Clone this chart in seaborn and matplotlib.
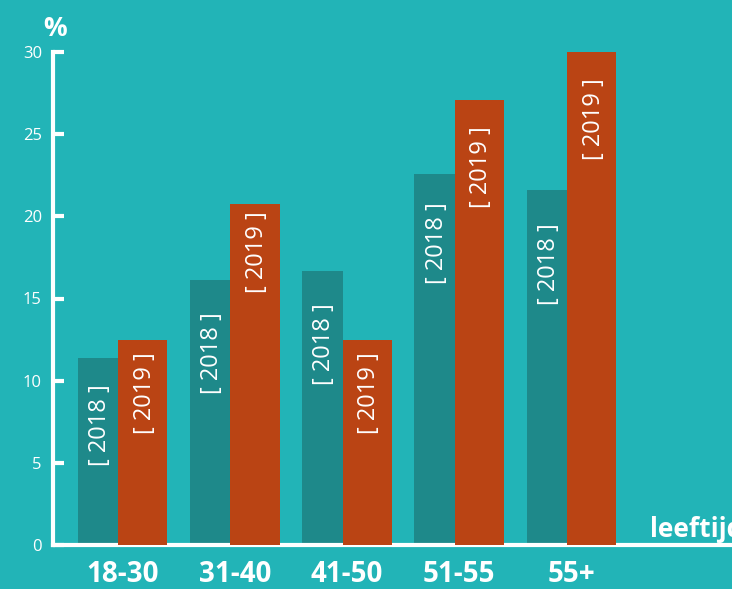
import matplotlib
matplotlib.use("Agg")
import matplotlib.pyplot as plt
import seaborn as sns
import pandas as pd

groups = ["18-30", "31-40", "41-50", "51-55", "55+"]
years = ["2018", "2019"]
vals_2018 = [11.4, 16.1, 16.7, 22.6, 21.6]
vals_2019 = [12.5, 20.75, 12.5, 27.1, 30.0]
yticks = [0, 5, 10, 15, 20, 25, 30]

# label offsets below bar tops (pixels) - styling only
off_2018 = [27, 32, 33, 29, 33]
off_2019 = [13, 7, 13, 27, 26]

BG = "#22B4B7"
C18 = "#1E898A"
C19 = "#BA4414"
WHITE = "#FFFFFF"

df = pd.DataFrame({
    "group": groups * 2,
    "year": [years[0]] * len(groups) + [years[1]] * len(groups),
    "value": vals_2018 + vals_2019,
})

sns.set_theme(style="white")
plt.rcParams["font.family"] = ["Open Sans", "DejaVu Sans"]

DPI = 100
fig = plt.figure(figsize=(7.32, 5.89), dpi=DPI, facecolor=BG)
ax = fig.add_axes([53 / 732, 44 / 589, 1 - 53 / 732, 493 / 589])
ax.set_facecolor(BG)

sns.barplot(data=df, x="group", y="value", hue="year", order=groups,
            hue_order=years, palette=[C18, C19], saturation=1, width=0.8,
            dodge=True, ax=ax, legend=False, linewidth=0)

w18, w19 = 0.36, 0.44
patches = list(ax.patches)
n = len(groups)
for i, p in enumerate(patches[:n]):
    p.set_x(i - w18)
    p.set_width(w18)
    p.set_zorder(2)
for i, p in enumerate(patches[n:2 * n]):
    p.set_x(i)
    p.set_width(w19)
    p.set_zorder(4)

px2pt = 72 / DPI
for i in range(n):
    for p, lab, off in ((patches[i], years[0], off_2018[i]),
                        (patches[n + i], years[1], off_2019[i])):
        cx = p.get_x() + p.get_width() / 2
        top = p.get_height()
        ax.annotate(f"[ {lab} ]", xy=(cx, top),
                    xytext=(2 * px2pt, -off * px2pt),
                    textcoords="offset points", rotation=90,
                    ha="center", va="top", color=WHITE, fontsize=17,
                    fontweight="normal", zorder=5)

ax.set_xlim(-0.58, 5.47)
ax.set_ylim(0, 30)
ax.set_xticks([i + 0.04 for i in range(n)])
ax.set_xticklabels(groups, fontsize=20, fontweight="bold", color=WHITE)
ax.tick_params(axis="x", length=0, pad=11)
ax.set_yticks(yticks)
ax.set_yticklabels([str(t) for t in yticks], fontsize=12, color=WHITE)
ax.tick_params(axis="y", direction="in", length=8, width=3, color=WHITE,
               pad=8, left=True)
ax.set_xlabel("")
ax.set_ylabel("")

for s in ("top", "right"):
    ax.spines[s].set_visible(False)
for s in ("left", "bottom"):
    ax.spines[s].set_color(WHITE)
    ax.spines[s].set_linewidth(3)
    ax.spines[s].set_zorder(3)

ax.annotate("%", xy=(0, 1), xycoords="axes fraction",
            xytext=(2 * px2pt, 16 * px2pt), textcoords="offset points",
            ha="center", va="baseline", fontsize=19, fontweight="bold",
            color=WHITE)
fig.text(650 / 732, (589 - 537) / 589, "leeftijd", ha="left",
         va="baseline", fontsize=19, fontweight="bold", color=WHITE)

fig.savefig("out.png", dpi=DPI, facecolor=BG)
